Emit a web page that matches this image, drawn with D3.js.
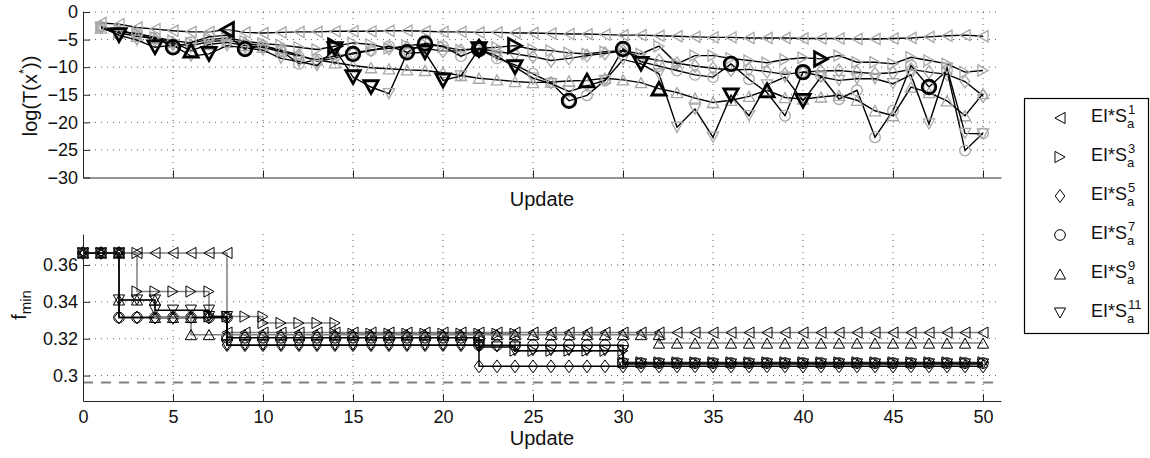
<!DOCTYPE html>
<html>
<head>
<meta charset="utf-8">
<script src="https://cdn.jsdelivr.net/npm/d3@7"></script>
<style>
  body { margin: 0; background: #fff; }
  svg text { font-family: "Liberation Sans", Arial, Helvetica, sans-serif; fill: #111; }
</style>
</head>
<body>
<div id="chart"></div>
<script>
'use strict'

// ---------------- data ----------------
const seriesLabels = ['1', '3', '5', '7', '9', '11']
const markerShapes = ['left', 'right', 'diamond', 'circle', 'up', 'down']

// log(T(x*)) per update, updates 1..50
const topS1 = [-2.0,-2.2,-2.8,-3.1,-3.4,-3.6,-3.6,-3.2,-3.7,-3.8,
               -3.7,-3.6,-3.6,-3.5,-3.5,-3.5,-3.4,-3.4,-3.5,-3.6,
               -3.6,-3.7,-3.7,-3.8,-3.8,-3.9,-4.0,-4.0,-4.1,-4.2,
               -4.2,-4.3,-4.4,-4.5,-4.6,-4.6,-4.7,-4.7,-4.7,-4.8,
               -4.8,-4.8,-4.9,-4.9,-4.8,-4.7,-4.5,-4.3,-4.2,-4.4]
const topS3 = [-2.8,-3.4,-4.0,-4.6,-5.2,-5.6,-5.0,-4.7,-5.3,-5.7,
               -6.0,-6.4,-6.8,-6.2,-5.6,-5.9,-6.6,-6.1,-5.8,-6.3,
               -6.9,-6.6,-6.4,-6.1,-6.8,-7.0,-7.4,-7.6,-7.2,-7.0,
               -7.6,-6.2,-9.4,-7.9,-7.9,-8.4,-8.8,-9.2,-8.6,-8.3,
               -8.5,-7.9,-9.1,-9.1,-9.4,-8.2,-8.8,-9.4,-10.9,-10.6]
const topS5 = [-2.7,-3.3,-4.1,-5.0,-5.8,-6.1,-5.4,-5.1,-5.7,-6.1,
               -6.9,-7.8,-8.9,-8.4,-7.4,-6.9,-6.6,-6.4,-6.6,-7.1,
               -7.0,-6.6,-7.2,-7.6,-8.1,-8.8,-8.4,-7.9,-7.5,-7.1,
               -8.2,-8.8,-9.3,-9.8,-10.2,-10.5,-10.4,-10.8,-11.3,-10.9,
               -10.7,-10.6,-10.9,-11.2,-11.0,-10.4,-10.9,-11.3,-12.6,-15.2]
const topS7 = [-2.7,-3.6,-3.9,-4.6,-6.4,-5.5,-4.5,-4.2,-6.7,-6.1,
               -7.0,-9.4,-8.6,-8.0,-7.6,-7.0,-6.2,-7.3,-5.7,-6.2,
               -8.0,-6.7,-8.4,-9.6,-11.2,-12.8,-16.1,-15.1,-12.4,-6.7,
               -9.0,-9.8,-10.6,-11.4,-11.8,-9.4,-12.2,-14.6,-18.8,-10.9,
               -11.6,-15.8,-14.2,-22.7,-17.9,-9.7,-13.6,-10.6,-25.1,-22.0]
const topS9 = [-2.9,-3.8,-4.4,-4.8,-5.5,-7.0,-5.9,-5.5,-6.1,-6.4,
               -7.2,-8.0,-8.7,-9.2,-9.7,-10.1,-10.3,-10.5,-10.6,-11.0,
               -11.5,-12.0,-12.3,-12.6,-12.8,-12.7,-12.5,-12.4,-12.0,-12.3,
               -12.8,-13.9,-14.6,-15.6,-16.4,-16.0,-15.3,-14.2,-15.5,-15.8,
               -15.4,-15.1,-16.0,-17.9,-18.8,-13.6,-14.6,-16.1,-18.8,-14.8]
const topS11 = [-2.8,-4.2,-5.1,-6.4,-6.0,-8.0,-7.6,-6.1,-6.5,-6.9,
                -8.4,-9.0,-9.7,-6.7,-11.8,-13.6,-14.8,-7.5,-7.3,-12.4,
                -11.6,-6.7,-8.0,-10.0,-12.0,-13.0,-14.4,-13.4,-12.4,-8.6,
                -9.4,-11.2,-20.9,-17.6,-22.7,-15.1,-18.8,-13.2,-11.8,-16.1,
                -11.8,-12.4,-12.1,-12.1,-13.0,-11.4,-20.3,-10.2,-22.0,-22.1]

// updates where the point improved f_min (drawn bold)
const boldS1 = [8]
const boldS3 = [14, 24, 41]
const boldS5 = [22]
const boldS7 = [5, 9, 15, 18, 19, 22, 27, 30, 36, 40, 47]
const boldS9 = [6, 28, 32, 38]
const boldS11 = [2, 4, 7, 14, 15, 16, 19, 20, 22, 24, 31, 36, 40]

// f_min per update, updates 0..50
const botS1 = [0.3665,0.3665,0.3665,0.3665,0.3665,0.3665,0.3665,0.3665,0.3665,0.3233,
               0.3233,0.3233,0.3233,0.3233,0.3233,0.3233,0.3233,0.3233,0.3233,0.3233,
               0.3233,0.3233,0.3233,0.3233,0.3233,0.3233,0.3233,0.3233,0.3233,0.3233,
               0.3233,0.3233,0.3233,0.3233,0.3233,0.3233,0.3233,0.3233,0.3233,0.3233,
               0.3233,0.3233,0.3233,0.3233,0.3233,0.3233,0.3233,0.3233,0.3233,0.3233,
               0.3233]
const botS3 = [0.3665,0.3665,0.3665,0.3665,0.3456,0.3456,0.3456,0.3456,0.3320,0.3320,
               0.3320,0.3285,0.3285,0.3285,0.3285,0.3227,0.3227,0.3227,0.3227,0.3227,
               0.3227,0.3227,0.3227,0.3227,0.3227,0.3135,0.3135,0.3135,0.3135,0.3135,
               0.3135,0.3072,0.3072,0.3072,0.3072,0.3072,0.3072,0.3072,0.3072,0.3072,
               0.3072,0.3072,0.3072,0.3072,0.3072,0.3072,0.3072,0.3072,0.3072,0.3072,
               0.3072]
const botS5 = [0.3665,0.3665,0.3665,0.3315,0.3315,0.3315,0.3315,0.3315,0.3315,0.3165,
               0.3165,0.3165,0.3165,0.3165,0.3165,0.3165,0.3165,0.3165,0.3165,0.3165,
               0.3165,0.3165,0.3165,0.3050,0.3050,0.3050,0.3050,0.3050,0.3050,0.3050,
               0.3050,0.3050,0.3050,0.3050,0.3050,0.3050,0.3050,0.3050,0.3050,0.3050,
               0.3050,0.3050,0.3050,0.3050,0.3050,0.3050,0.3050,0.3050,0.3050,0.3050,
               0.3050]
const botS7 = [0.3665,0.3665,0.3665,0.3315,0.3315,0.3315,0.3315,0.3315,0.3315,0.3205,
               0.3205,0.3205,0.3205,0.3205,0.3205,0.3205,0.3205,0.3205,0.3205,0.3205,
               0.3205,0.3205,0.3205,0.3165,0.3165,0.3165,0.3165,0.3165,0.3165,0.3165,
               0.3165,0.3068,0.3068,0.3068,0.3068,0.3068,0.3068,0.3068,0.3068,0.3068,
               0.3068,0.3068,0.3068,0.3068,0.3068,0.3068,0.3068,0.3068,0.3068,0.3068,
               0.3068]
const botS9 = [0.3665,0.3665,0.3665,0.3410,0.3410,0.3315,0.3315,0.3222,0.3222,0.3222,
               0.3222,0.3222,0.3222,0.3222,0.3222,0.3222,0.3222,0.3222,0.3222,0.3222,
               0.3222,0.3222,0.3222,0.3222,0.3222,0.3222,0.3222,0.3222,0.3222,0.3222,
               0.3222,0.3222,0.3222,0.3176,0.3176,0.3176,0.3176,0.3176,0.3176,0.3176,
               0.3176,0.3176,0.3176,0.3176,0.3176,0.3176,0.3176,0.3176,0.3176,0.3176,
               0.3176]
const botS11 = [0.3665,0.3665,0.3665,0.3410,0.3410,0.3355,0.3355,0.3355,0.3320,0.3165,
                0.3165,0.3165,0.3165,0.3165,0.3165,0.3165,0.3165,0.3165,0.3165,0.3165,
                0.3165,0.3165,0.3165,0.3155,0.3155,0.3135,0.3135,0.3135,0.3135,0.3135,
                0.3135,0.3063,0.3063,0.3063,0.3063,0.3063,0.3063,0.3063,0.3063,0.3063,
                0.3063,0.3063,0.3063,0.3063,0.3063,0.3063,0.3063,0.3063,0.3063,0.3063,
                0.3063]
const fTarget = 0.2963

const xTicks = [0, 5, 10, 15, 20, 25, 30, 35, 40, 45, 50]
const topYTicks = [-30, -25, -20, -15, -10, -5, 0]
const botYTicks = [0.3, 0.32, 0.34, 0.36]

const topSeries = [topS1, topS3, topS5, topS7, topS9, topS11]
const boldSeries = [boldS1, boldS3, boldS5, boldS7, boldS9, boldS11]
const botSeries = [botS1, botS3, botS5, botS7, botS9, botS11]

// ---------------- styles ----------------
const botLineColor = ['#808080', '#808080', '#000', '#000', '#808080', '#000']
const grayMarker = '#a8a8a8'

////////////////////////////////////
//////////// svg setup /////////////
////////////////////////////////////
const svg = d3.select('#chart').append('svg')
    .attr('width', 1150)
    .attr('height', 458)

const x = d3.scaleLinear().domain([0, 51]).range([83, 1001])
const yTop = d3.scaleLinear().domain([-30, 0]).range([177.5, 12])
const yBot = d3.scaleLinear().domain([0.2862, 0.3768]).range([401, 234])

function markerPath(shape, r) {
    const w = r * 0.9
    switch (shape) {
        case 'left': return `M${w},${-r}L${-w},0L${w},${r}Z`
        case 'right': return `M${-w},${-r}L${w},0L${-w},${r}Z`
        case 'up': return `M${-r},${w}L0,${-w}L${r},${w}Z`
        case 'down': return `M${-r},${-w}L0,${w}L${r},${-w}Z`
        case 'diamond': return `M0,${-r * 1.15}L${r * 0.85},0L0,${r * 1.15}L${-r * 0.85},0Z`
        default: {
            const c = r * 0.95
            return `M${c},0A${c},${c} 0 1,1 ${-c},0A${c},${c} 0 1,1 ${c},0Z`
        }
    }
}

function grid(g, yScale, yTicks, y0, y1) {
    const gg = g.append('g').attr('stroke', '#333').attr('stroke-width', 0.8)
        .attr('stroke-dasharray', '1,5')
    yTicks.forEach(t => {
        gg.append('line').attr('x1', x(0)).attr('x2', x(51))
            .attr('y1', yScale(t)).attr('y2', yScale(t))
    })
    xTicks.filter(t => t > 0).forEach(t => {
        gg.append('line').attr('x1', x(t)).attr('x2', x(t))
            .attr('y1', y0).attr('y2', y1)
    })
}

function axes(g, yScale, yTicks, fmt, showX) {
    const ax = g.append('g').attr('transform', `translate(0,${yScale.range()[0]})`)
        .call(d3.axisBottom(x).tickValues(xTicks).tickSizeInner(-7).tickSizeOuter(0)
            .tickPadding(9).tickFormat(showX ? d3.format('d') : ''))
    const ay = g.append('g').attr('transform', `translate(${x(0)},0)`)
        .call(d3.axisLeft(yScale).tickValues(yTicks).tickSizeInner(-7).tickSizeOuter(0)
            .tickPadding(5).tickFormat(fmt))
    ;[ax, ay].forEach(a => {
        a.attr('font-family', null).attr('font-size', null)
        a.selectAll('path, line').attr('stroke', '#262626')
        a.selectAll('text').attr('font-size', 18).attr('fill', '#111')
    })
}

////////////////////////////////////
//////////// top panel /////////////
////////////////////////////////////
const topG = svg.append('g')
grid(topG, yTop, topYTicks.filter(t => t > -30), yTop(0), yTop(-30))

topSeries.forEach((vals, s) => {
    const pts = vals.map((v, i) => [i + 1, v])
    topG.append('path')
        .attr('d', d3.line().x(d => x(d[0])).y(d => yTop(d[1]))(pts))
        .attr('fill', 'none').attr('stroke', '#000').attr('stroke-width', 1.4)
    topG.append('g').selectAll('path').data(pts).join('path')
        .attr('transform', d => `translate(${x(d[0])},${yTop(d[1])})`)
        .attr('d', markerPath(markerShapes[s], 5.6))
        .attr('fill', 'none').attr('stroke', grayMarker).attr('stroke-width', 1.3)
})
boldSeries.forEach((xs, s) => {
    topG.append('g').selectAll('path').data(xs).join('path')
        .attr('transform', d => `translate(${x(d)},${yTop(topSeries[s][d - 1])})`)
        .attr('d', markerPath(markerShapes[s], 7.2))
        .attr('fill', 'none').attr('stroke', '#000').attr('stroke-width', 2.7)
})
axes(topG, yTop, topYTicks, d3.format('d'), false)
topG.selectAll('text').text(function () { return this.textContent.replace('-', '\u2212') })

topG.append('text').attr('x', x(25.5)).attr('y', 206).attr('text-anchor', 'middle')
    .attr('font-size', 20).text('Update')
const ylab = topG.append('text').attr('transform', 'translate(37,96) rotate(-90)')
    .attr('text-anchor', 'middle').attr('font-size', 20)
ylab.append('tspan').text('log(T(x')
ylab.append('tspan').attr('font-size', 13).attr('dy', -9).text('*')
ylab.append('tspan').attr('dy', 9).text('))')

////////////////////////////////////
/////////// bottom panel ///////////
////////////////////////////////////
const botG = svg.append('g')
grid(botG, yBot, botYTicks, yBot.range()[1], yBot.range()[0])

botG.append('line').attr('x1', x(0)).attr('x2', x(51))
    .attr('y1', yBot(fTarget)).attr('y2', yBot(fTarget))
    .attr('stroke', '#808080').attr('stroke-width', 2).attr('stroke-dasharray', '10,8')

botSeries.forEach((vals, s) => {
    // vertices of the staircase: the drop happens at the last update of the old value
    const pts = []
    vals.forEach((v, i) => {
        if (i > 0 && v !== vals[i - 1]) pts.push([i - 1, v])
        pts.push([i, v])
    })
    botG.append('path')
        .attr('d', d3.line().x(d => x(d[0])).y(d => yBot(d[1]))(pts))
        .attr('fill', 'none').attr('stroke', botLineColor[s]).attr('stroke-width', 1.5)
    botG.append('g').selectAll('path').data(pts).join('path')
        .attr('transform', d => `translate(${x(d[0])},${yBot(d[1])})`)
        .attr('d', markerPath(markerShapes[s], 5.6))
        .attr('fill', 'none').attr('stroke', '#000').attr('stroke-width', 1)
})
axes(botG, yBot, botYTicks, d3.format('.2~f'), true)

botG.append('text').attr('x', x(25.5)).attr('y', 445).attr('text-anchor', 'middle')
    .attr('font-size', 20).text('Update')
const flab = botG.append('text').attr('transform', 'translate(26,305) rotate(-90)')
    .attr('text-anchor', 'middle').attr('font-size', 20)
flab.append('tspan').text('f')
flab.append('tspan').attr('font-size', 15).attr('dy', 5).text('min')

////////////////////////////////////
////////////// legend //////////////
////////////////////////////////////
const leg = svg.append('g')
leg.append('rect').attr('x', 1024.5).attr('y', 98.5).attr('width', 124).attr('height', 235)
    .attr('fill', '#fff').attr('stroke', '#000').attr('stroke-width', 1.2)

seriesLabels.forEach((lab, s) => {
    const yy = 118 + s * 39
    leg.append('path').attr('transform', `translate(1060,${yy})`)
        .attr('d', markerPath(markerShapes[s], 5.6))
        .attr('fill', 'none').attr('stroke', '#000').attr('stroke-width', 1)
    const t = leg.append('text').attr('x', 1091).attr('y', yy + 4).attr('font-size', 18).text('EI*S')
    const w = t.node().getComputedTextLength()
    leg.append('text').attr('x', 1091 + w + 1).attr('y', yy - 4).attr('font-size', 13).text(lab)
    leg.append('text').attr('x', 1091 + w).attr('y', yy + 10).attr('font-size', 13).text('a')
})
</script>
</body>
</html>
